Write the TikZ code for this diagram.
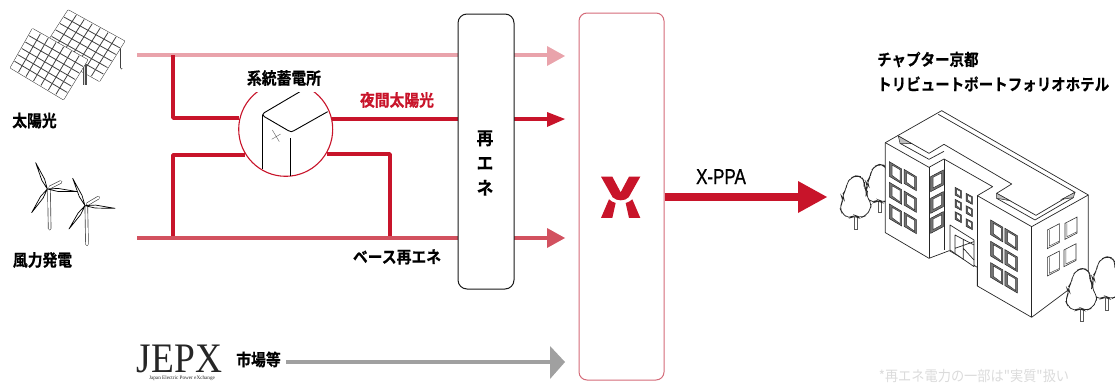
\documentclass[tikz,border=0pt]{standalone}
\usepackage{fontspec}
\setmainfont{Noto Sans CJK JP}[BoldFont={* Bold},BoldFeatures={FakeBold=0.5}]
\newfontfamily\lat{Liberation Sans}[FakeBold=1.2]
\newfontfamily\ser{Liberation Serif}
\newfontfamily\thin{Noto Sans CJK JP}
\usetikzlibrary{arrows.meta,calc}
\definecolor{rd}{HTML}{C8142A}
\definecolor{pk}{HTML}{E9A3AB}
\definecolor{md}{HTML}{D2515F}
\definecolor{gy}{HTML}{A0A0A0}
\definecolor{bx}{HTML}{D46A78}
\tikzset{
  lbl/.style={font=\bfseries\fontsize{14.8}{16}\selectfont,inner sep=0pt,text=black,yscale=1.12},
  flow/.style={line width=#1},
  bldg/.style={line width=.7pt,draw=black!85,line join=round},
  winin/.style={draw=black!80,line width=.5pt,fill=white},
}
\newcommand\hd[6]{\fill[#1] (#2,#3) -- (#4,#5) -- (#4,#6) -- cycle;}
\newcommand\panel[8]{%
  \draw[fill=white,line width=2pt,draw=black!75,line join=round] (#1,#2)--(#3,#4)--(#5,#6)--(#7,#8)--cycle;
  \draw[fill=white,line width=.9pt,draw=white,line join=round] (#1,#2)--(#3,#4)--(#5,#6)--(#7,#8)--cycle;
  \foreach \t in {0.143,0.286,0.429,0.571,0.714,0.857}{\draw[line width=.8pt,draw=black!75] ($(#1,#2)!\t!(#3,#4)$)--($(#7,#8)!\t!(#5,#6)$);}
  \foreach \t in {0.167,0.333,0.5,0.667,0.833}{\draw[line width=.8pt,draw=black!75] ($(#1,#2)!\t!(#7,#8)$)--($(#3,#4)!\t!(#5,#6)$);}
}
\newcommand\blade[4]{\draw[fill=white,line width=.7pt,draw=black,line join=round] (#1,#2)--($(#1,#2)!.35!(#3,#4)!1.5pt!90:(#3,#4)$)--(#3,#4)--($(#1,#2)!.35!(#3,#4)!1.5pt!-90:(#3,#4)$)--cycle;}
\newcommand\capsule[4]{\draw[line width=3.4pt,draw=black!75,line cap=round] (#1,#2)--(#3,#4);\draw[line width=2.1pt,draw=white,line cap=round] (#1,#2)--(#3,#4);}
\newcommand\tree[3]{\begin{scope}[shift={(#1,#2)},scale=#3]
  \draw[fill=white,line width=.6pt,draw=black!65] (-5,100) rectangle (5,160);
  \draw[fill=white,line width=.7pt,draw=black!85,rounded corners=5pt]
   (0,0)--(16,3)--(26,18)--(24,34)--(34,48)--(30,60)--(46,82)--(44,100)--(30,120)--(10,128)--(-4,118)--(-22,130)--(-42,112)--(-50,94)--(-36,72)--(-44,60)--(-30,44)--(-28,22)--(-14,6)--cycle;
\end{scope}}
\newcommand\wdl[3]{\begin{scope}[shift={(#1,#2)}]
  \draw[fill=black!55,draw=black!85,line width=.5pt] (0,0)--(37,22)--(37,#3+22)--(0,#3)--cycle;
  \draw[winin] (8,10)--(32,24)--(32,#3+15)--(8,#3-3)--cycle;
\end{scope}}
\newcommand\wdr[4]{\begin{scope}[shift={(#1,#2)}]
  \draw[fill=white,line width=.6pt,draw=black!80] (0,0)--(#3,-#3*.52)--(#3,#4-#3*.52)--(0,#4)--cycle;
  \draw[line width=.5pt,draw=black!70] (6,0)--(6,#4-8)--(#3,#4-#3*.52-4);
\end{scope}}
\newcommand\wdn[2]{\begin{scope}[shift={(#1,#2)}]
  \draw[fill=black!55,draw=black!85,line width=.5pt] (0,0)--(38,-20)--(38,25)--(0,45)--cycle;
  \draw[winin] (7,2)--(33,-11)--(33,20)--(7,34)--cycle;
\end{scope}}
\begin{document}
\begin{tikzpicture}[x=1pt,y=-1pt]
\useasboundingbox (0,0) rectangle (1115,383);
\coordinate (s0) at (137,55); \coordinate (s1) at (548,55);
\coordinate (w0) at (137,238); \coordinate (w1) at (548,238);
\coordinate (n1) at (548,119);
\coordinate (m0) at (173,55); \coordinate (m1) at (173,118);
\coordinate (b0) at (173,238); \coordinate (b1) at (173,155);
\coordinate (c0) at (390,154); \coordinate (c1) at (390,238);
\coordinate (j0) at (286,362); \coordinate (j1) at (551,362);
\node[draw=none,circle,minimum size=94pt,inner sep=0pt] (st) at (285.7,129.3) {};
\draw[flow=4pt,draw=pk] (s0)--(s1);
\draw[flow=3.6pt,draw=rd,line join=round] (m0)--(m1)--(st.west|-m1);
\draw[flow=3.6pt,draw=rd,line join=round] (b0)--(b1)--(245,155);
\draw[flow=3.6pt,draw=rd,line join=round] (327,154)--(c0)--(c1);
\draw[flow=3.4pt,draw=rd] (331,119)--(n1);
\draw[flow=4pt,draw=md] (w0)--(w1);
\draw[flow=4pt,draw=gy] (j0)--(j1);
\hd{pk}{565}{56}{547}{46}{66}
\hd{rd}{565}{119}{547}{112}{127}
\hd{md}{565}{238}{547}{228}{248}
\hd{gy}{565}{362}{550}{346}{379}
\node[draw=rd,fill=white,circle,line width=1.1pt,minimum size=94pt,inner sep=0pt] at (st) {};
\begin{scope}[shift={(160,40)},x=.3333pt,y=-.3333pt]
\draw[line width=.9pt] (420,155)--(313,218) .. controls (307,222) and (307,225) .. (313,230)--(385,272) .. controls (392,276) and (396,276) .. (402,272)--(503,215);
\draw[line width=.9pt] (307,225)--(307,388);
\draw[line width=.9pt] (392,295)--(392,408);
\draw[line width=.4pt,draw=black!60] (337,270)--(358,305) (335,298)--(362,282);
\end{scope}
\fill[white] (250,68) rectangle (322,91.5);
\node[lbl] (l3) at (284,78) {系統蓄電所};
\node[lbl,text=rd] (l4) at (397,100) {夜間太陽光};
\node[lbl] (l5) at (397,257) {ベース再エネ};
\node[draw=black!90,fill=white,line width=1pt,rounded corners=9pt,minimum width=56pt,minimum height=275pt,inner sep=0pt] (re) at (486,151.5) {};
\node[font=\bfseries\fontsize{18}{25}\selectfont,align=center,inner sep=0pt,xscale=.92] (ret) at (485,163) {再\\エ\\ネ};
\node[draw=bx,fill=white,line width=1pt,rounded corners=8pt,minimum width=85pt,minimum height=367pt,inner sep=0pt] (xb) at (621.5,196.5) {};
\begin{scope}[shift={(530,0)},x=.3333pt,y=-.3333pt]
\fill[rd] (213,530)--(247,530)--(272,577)--(297,530)--(331,530)--(296,592) .. controls (285,604) and (260,604) .. (248,592)--cycle;
\fill[rd] (237,598) .. controls (243,604) and (250,607) .. (257,609)--(247,654)--(213,654)--cycle;
\fill[rd] (307,598) .. controls (301,604) and (294,607) .. (287,609)--(297,654)--(331,654)--cycle;
\end{scope}
\draw[flow=8pt,draw=rd] (xb.east|-0,197)--(799,197);
\hd{rd}{827}{197}{798}{181}{213}
\node[font=\lat\fontsize{21.5}{22}\selectfont,inner sep=0pt,xscale=.79,text height=15.5pt,text depth=0pt,anchor=base] (xp) at (721,184) {X-PPA};
\node[lbl] (l1) at (34.5,120.5) {太陽光};
\node[lbl] (l2) at (42.5,260) {風力発電};
\node[lbl] (l6) at (258.5,359.5) {市場等};
\node[font=\ser\fontsize{42}{42}\selectfont,inner sep=0pt,text=black!85,xscale=.89,text depth=0pt,anchor=base] (jx) at (179.5,372.5) {JEPX};
\node[font=\ser\fontsize{5.2}{5.5}\selectfont,inner sep=0pt,text=black!85,anchor=north,text depth=0pt] (jy) at (182,375.5) {Japan Electric Power eXchange};
\begin{scope}[x=.3333pt,y=-.3333pt]
\capsule{365}{130}{365}{203}
\panel{205}{32}{372}{124}{298}{242}{130}{148}
\draw[line width=4pt,draw=black!70] (256,195)--(256,255);
\draw[line width=1.6pt,draw=black!15] (254,195)--(254,255);
\panel{98}{88}{261}{180}{190}{297}{33}{203}
\end{scope}
\begin{scope}[x=.3333pt,y=-.3333pt]
\capsule{147}{570}{149}{686}
\blade{142}{567}{107}{488}\blade{142}{567}{232}{575}\blade{142}{567}{95}{638}\capsule{150}{562}{182}{546}
\capsule{259}{620}{261}{733}
\blade{255}{617}{218}{535}\blade{255}{617}{345}{625}\blade{255}{617}{207}{687}\capsule{263}{612}{295}{593}
\end{scope}
\begin{scope}[shift={(820,30)},x=.3333pt,y=-.3333pt]
\tree{178}{403}{.9}
\tree{108}{437}{1}
\draw[bldg,fill=white] (196,338)--(365,242)--(805,495)--(805,735)--(635,862)--(472,768)--(472,712)--(388,662)--(327,685)--(196,608)--cycle;
\draw[bldg] (196,338)--(327,412)--(372,387)--(518,470)--(472,497)--(635,590)--(805,495);
\draw[bldg] (327,412)--(327,685) (372,387)--(372,660) (472,497)--(472,768) (635,590)--(635,862);
\draw[bldg] (235,318)--(327,370)--(372,343)--(575,462)--(530,490)--(648,556)--(765,487)--(355,253);
\draw[bldg] (240,340)--(327,388)--(372,364);
\draw[bldg] (530,505)--(645,570)--(760,503);
\fill[black!25,draw=black!85,line width=.5pt] (235,318)--(240,340)--(275,341)--cycle;
\fill[black!25,draw=black!85,line width=.5pt] (530,490)--(530,505)--(570,512)--cycle;
\fill[black!25,draw=black!85,line width=.5pt] (765,487)--(760,503)--(725,508)--cycle;
\wdl{208}{395}{44}\wdl{252}{418}{42}\wdl{208}{457}{44}\wdl{252}{483}{42}\wdl{208}{522}{44}\wdl{252}{547}{42}
\wdl{512}{570}{44}\wdl{555}{595}{44}\wdl{512}{634}{44}\wdl{555}{659}{44}\wdl{512}{698}{44}\wdl{555}{723}{44}
\wdn{332}{440}\wdn{332}{505}\wdn{332}{565}
\foreach \a/\b in {405/472,438/490,405/508,438/527,405/545,438/566}{
 \draw[fill=black!60,line width=.5pt,draw=black!85] (\a,\b)--(\a+19,\b+10)--(\a+19,\b+33)--(\a,\b+23)--cycle;
 \draw[fill=white,line width=.4pt,draw=black!80] (\a+5,\b+6)--(\a+16,\b+12)--(\a+16,\b+28)--(\a+5,\b+19)--cycle;}
\draw[bldg,fill=white] (390,585)--(462,630)--(462,710)--(390,660)--cycle;
\draw[bldg] (405,615)--(462,645) (405,615)--(405,670) (430,628)--(430,690) (405,655)--(462,635) (430,655)--(462,690);
\wdr{682}{600}{36}{56}\wdr{735}{580}{36}{48}\wdr{682}{682}{36}{56}\wdr{732}{660}{36}{50}
\tree{860}{680}{1}
\tree{785}{715}{1}
\end{scope}
\node[font=\bfseries\fontsize{14.5}{16}\selectfont,anchor=west,inner sep=0pt,yscale=1.12] (h1) at (877,59.5) {チャプター京都};
\node[font=\bfseries\fontsize{14.5}{16}\selectfont,anchor=west,inner sep=0pt,yscale=1.12] (h2) at (877,84) {トリビュートポートフォリオホテル};
\node[font=\thin\fontsize{13.2}{15}\selectfont,text=black!14,inner sep=0pt,yscale=1.1] (fn) at (974,376) {*再エネ電力の一部は"実質"扱い};
\end{tikzpicture}
\end{document}
